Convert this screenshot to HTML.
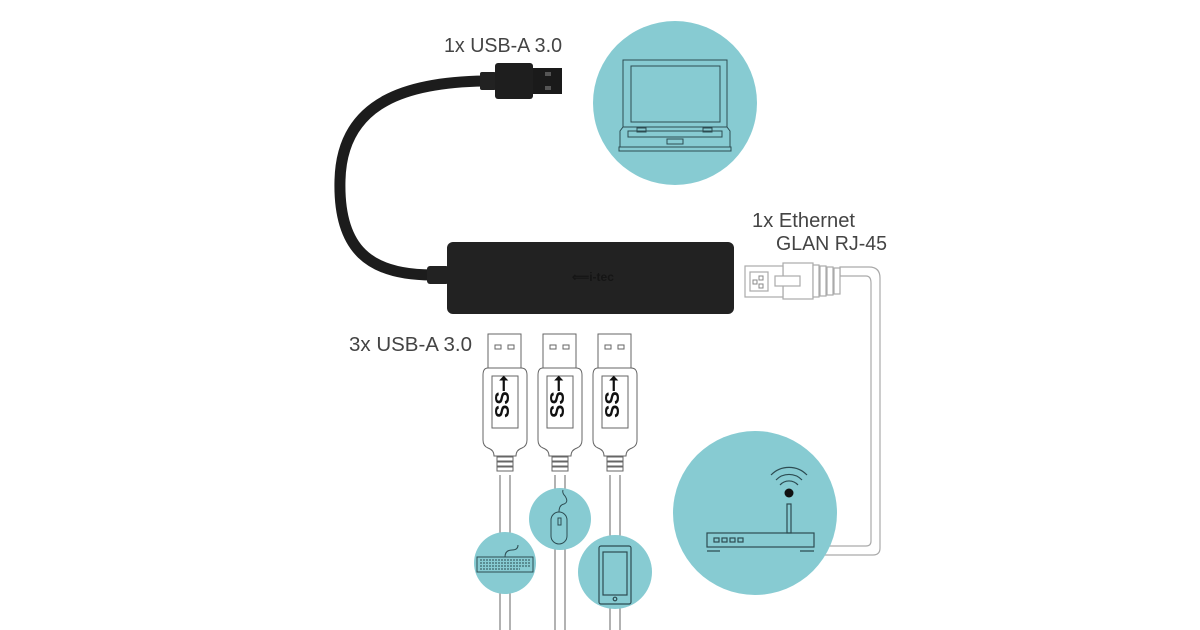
<!DOCTYPE html>
<html><head><meta charset="utf-8"><style>
html,body{margin:0;padding:0;background:#fff;}
svg{display:block;}
text{font-family:"Liberation Sans",sans-serif;fill:#444;font-size:20px;}
</style></head><body>
<svg width="1200" height="630" viewBox="0 0 1200 630" xmlns="http://www.w3.org/2000/svg">
<!-- labels -->
<text x="444" y="52" textLength="118" lengthAdjust="spacingAndGlyphs">1x USB-A 3.0</text>
<text x="752" y="227" textLength="103" lengthAdjust="spacingAndGlyphs">1x Ethernet</text>
<text x="776" y="250" textLength="111" lengthAdjust="spacingAndGlyphs">GLAN RJ-45</text>
<text x="349" y="351" textLength="123" lengthAdjust="spacingAndGlyphs">3x USB-A 3.0</text>

<!-- laptop circle -->
<circle cx="675" cy="103" r="82" fill="#87cbd2"/>
<g fill="none" stroke="#2d4c52" stroke-width="1">
<rect x="623" y="60" width="104" height="67"/>
<rect x="631" y="66" width="89" height="56"/>
<path d="M623 127 L620 131 L620 147 L730 147 L730 131 L727 127"/>
<rect x="619" y="147" width="112" height="4"/>
<rect x="628" y="131" width="94" height="6"/>
<rect x="637" y="128" width="9" height="4"/><rect x="703" y="128" width="9" height="4"/>
<rect x="667" y="139" width="16" height="5"/>
</g>

<!-- top cable -->
<path d="M485 81 C410 82 342 100 340 180 C338 250 370 275 432 275" fill="none" stroke="#1c1c1c" stroke-width="11"/>
<rect x="427" y="266" width="22" height="18" rx="3" fill="#222"/>
<rect x="480" y="72" width="16" height="18" rx="2" fill="#222"/>
<rect x="495" y="63" width="38" height="36" rx="3" fill="#1e1e1e"/>
<rect x="533" y="68" width="29" height="26" fill="#1a1a1a"/>
<rect x="545" y="72" width="6" height="4" fill="#555"/><rect x="545" y="86" width="6" height="4" fill="#555"/>

<!-- hub -->
<rect x="447" y="242" width="287" height="72" rx="6" fill="#222"/>
<text x="572" y="281" style="font-size:12px;fill:#151515;font-weight:bold" >⟸i-tec</text>

<!-- RJ45 -->
<g fill="#fff" stroke="#aaa" stroke-width="1.2">
<path d="M840 276 L866 276 Q871 276 871 283 L871 541 Q871 546 866 546 L820 546 L820 555 L873 555 Q880 555 880 548 L880 278 Q880 267 869 267 L840 267 Z"/>
<rect x="783" y="263" width="30" height="36"/>
<rect x="745" y="266" width="38" height="31"/>
<rect x="775" y="276" width="25" height="10"/>
<rect x="813" y="265" width="6" height="32"/><rect x="820" y="266" width="6" height="30"/>
<rect x="827" y="267" width="6" height="28"/><rect x="834" y="268" width="6" height="26"/>
<rect x="750" y="272" width="18" height="19"/>
</g>
<g fill="none" stroke="#888" stroke-width="1"><rect x="753" y="280" width="4" height="4"/><rect x="759" y="276" width="4" height="4"/><rect x="759" y="284" width="4" height="4"/></g>

<!-- router circle -->
<circle cx="755" cy="513" r="82" fill="#87cbd2"/>
<g fill="none" stroke="#2d4c52" stroke-width="1.2">
<rect x="707" y="533" width="107" height="14"/>
<rect x="714" y="538" width="5" height="4"/><rect x="722" y="538" width="5" height="4"/><rect x="730" y="538" width="5" height="4"/><rect x="738" y="538" width="5" height="4"/>
<rect x="787" y="504" width="4" height="29"/>
<path d="M707 551 L720 551 M800 551 L814 551"/>
<path d="M780 485 A12 12 0 0 1 798 485"/>
<path d="M776 480 A18 18 0 0 1 802 480"/>
<path d="M771 475 A25 25 0 0 1 807 475"/>
</g>
<circle cx="789" cy="493" r="4.5" fill="#111"/>

<!-- bottom USB plugs -->
<g id="p1" fill="#fff" stroke="#666" stroke-width="1">
<line x1="500" y1="475" x2="500" y2="630"/><line x1="510" y1="475" x2="510" y2="630"/>
<rect x="488" y="334" width="33" height="34"/>
<rect x="495" y="345" width="6" height="4"/><rect x="508" y="345" width="6" height="4"/>
<path d="M488 368 L521 368 Q527 368 527 375 L527 440 Q527 446 522 448 Q516 450 516 456 L494 456 Q494 450 488 448 Q483 446 483 440 L483 375 Q483 368 488 368 Z"/>
<rect x="492" y="376" width="26" height="52"/>
<rect x="497" y="457" width="16" height="4"/><rect x="497" y="462" width="16" height="4"/><rect x="497" y="467" width="16" height="4"/>
</g>
<use href="#p1" x="55"/><use href="#p1" x="110"/>
<g style="font-size:13px;font-weight:bold;">
<text transform="translate(509,418) rotate(-90)" style="fill:#111">SS⭢</text>
<text transform="translate(564,418) rotate(-90)" style="fill:#111">SS⭢</text>
<text transform="translate(619,418) rotate(-90)" style="fill:#111">SS⭢</text>
</g>

<!-- device circles -->
<circle cx="505" cy="563" r="31" fill="#87cbd2"/>
<g fill="none" stroke="#2d4c52" stroke-width="1">
<rect x="477" y="557" width="56" height="15"/>
<path d="M480 560 H530 M480 563 H530 M480 566 H530 M480 569 H520" stroke-dasharray="2 1"/>
<path d="M505 557 Q505 550 512 550 Q518 550 518 545"/>
</g>
<circle cx="560" cy="519" r="31" fill="#87cbd2"/>
<g fill="none" stroke="#2d4c52" stroke-width="1">
<rect x="551" y="512" width="16" height="32" rx="8"/>
<rect x="558" y="518" width="3" height="7"/>
<path d="M559 512 Q559 505 564 504 Q569 502 565 496 Q562 493 563 490"/>
</g>
<circle cx="615" cy="572" r="37" fill="#87cbd2"/>
<g fill="none" stroke="#2d4c52" stroke-width="1.2">
<rect x="599" y="546" width="32" height="58" rx="2"/>
<rect x="603" y="552" width="24" height="43"/>
<circle cx="615" cy="599" r="1.8"/>
</g>
</svg>
</body></html>
